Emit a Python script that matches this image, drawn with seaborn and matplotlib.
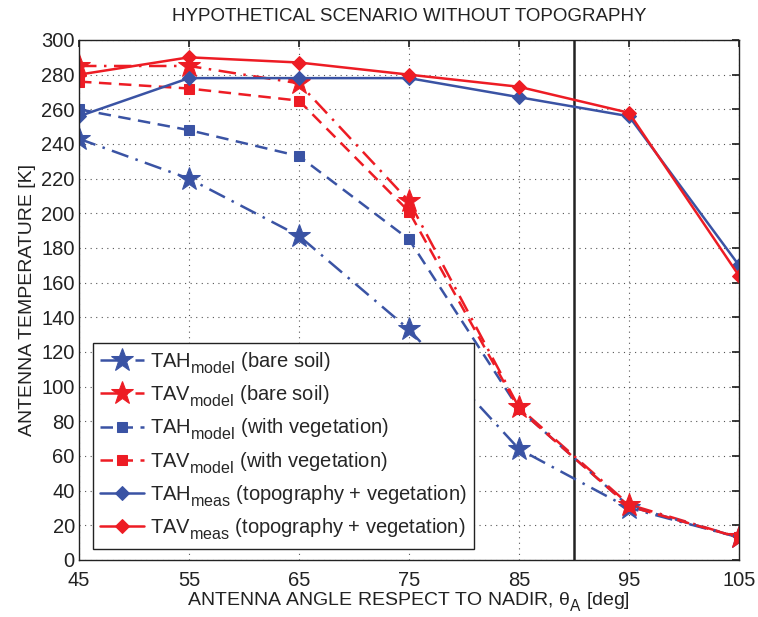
import matplotlib
matplotlib.use("Agg")
import matplotlib.pyplot as plt
import matplotlib._mathtext as mathtext_impl
import seaborn as sns
import pandas as pd

angles = [45, 55, 65, 75, 85, 95, 105]
tah_bare = [243, 220, 187, 133, 64, 30, 13]
tav_bare = [285, 285, 275, 207, 88, 32, 13]
tah_veg = [260, 248, 233, 185, 87, 31, 13]
tav_veg = [276, 272, 265, 201, 87, 31, 13]
tah_meas = [256, 278, 278, 278, 267, 256, 170]
tav_meas = [280, 290, 287, 280, 273, 258, 164]

labels = [
    r"TAH$_{\mathrm{model}}$ (bare soil)",
    r"TAV$_{\mathrm{model}}$ (bare soil)",
    r"TAH$_{\mathrm{model}}$ (with vegetation)",
    r"TAV$_{\mathrm{model}}$ (with vegetation)",
    r"TAH$_{\mathrm{meas}}$ (topography + vegetation)",
    r"TAV$_{\mathrm{meas}}$ (topography + vegetation)",
]
series = [tah_bare, tav_bare, tah_veg, tav_veg, tah_meas, tav_meas]
nadir_limit = 90

# larger, lower subscripts in the style of the labels
mathtext_impl.SHRINK_FACTOR = 0.8
mathtext_impl.FontConstantsBase.sub1 = 0.6
mathtext_impl.FontConstantsBase.sub2 = 0.75

sns.set_theme(style="white")
plt.rcParams["font.family"] = ["Liberation Sans", "DejaVu Sans"]
plt.rcParams["mathtext.fontset"] = "custom"
plt.rcParams["mathtext.rm"] = "Liberation Sans"
plt.rcParams["mathtext.it"] = "Liberation Sans"

BLUE = "#3a53a4"
RED = "#ed1c24"
INK = "#222222"
styles = [
    dict(color=BLUE, marker="*", markersize=17, ls=(0, (7, 3, 1, 3))),
    dict(color=RED, marker="*", markersize=17, ls=(0, (7, 3, 1, 3))),
    dict(color=BLUE, marker="s", markersize=7, ls=(0, (5, 3))),
    dict(color=RED, marker="s", markersize=7, ls=(0, (5, 3))),
    dict(color=BLUE, marker="D", markersize=7.5, ls="-"),
    dict(color=RED, marker="D", markersize=7.5, ls="-"),
]

fig = plt.figure(figsize=(7.58, 6.17), dpi=100)
ax = fig.add_axes([0.1042, 0.0924, 0.8707, 0.8428])

for vals, lab, st in zip(series, labels, styles):
    df = pd.DataFrame({"angle": angles, "temp": vals})
    sns.lineplot(data=df, x="angle", y="temp", ax=ax, color=st["color"],
                 marker=st["marker"], markersize=st["markersize"],
                 markeredgecolor=st["color"], linestyle=st["ls"],
                 linewidth=1.8, label=lab)

ax.axvline(nadir_limit, color=INK, lw=1.8, zorder=1)

ax.set_xlim(45, 105)
ax.set_ylim(0, 300)
ax.set_xticks(range(45, 106, 10))
ax.set_yticks(range(0, 301, 20))
ax.grid(True, linestyle=(0, (1, 4)), color="#555555", linewidth=0.8)
ax.tick_params(direction="in", top=True, right=True, length=5,
               labelsize=14.5, colors=INK, pad=3)
ax.tick_params(axis="x", pad=8)
for sp in ax.spines.values():
    sp.set_color(INK)
    sp.set_linewidth(1.0)

ax.set_xlabel(r"ANTENNA ANGLE RESPECT TO NADIR, θ$_{\mathrm{A}}$ [deg]",
              fontsize=14, color=INK, labelpad=0)
ax.set_ylabel("ANTENNA TEMPERATURE [K]", fontsize=14, color=INK, labelpad=4)
ax.set_title("HYPOTHETICAL SCENARIO WITHOUT TOPOGRAPHY", fontsize=13.5,
             color=INK, pad=14)

leg = ax.legend(loc="lower left", bbox_to_anchor=(0.021, 0.021),
                borderaxespad=0, fontsize=14.5, frameon=True, fancybox=False,
                framealpha=1, edgecolor=INK, handlelength=2.2,
                handletextpad=0.3, labelspacing=0.38, borderpad=0.35)
leg.get_frame().set_linewidth(1.0)

fig.savefig("out.png", dpi=100)
